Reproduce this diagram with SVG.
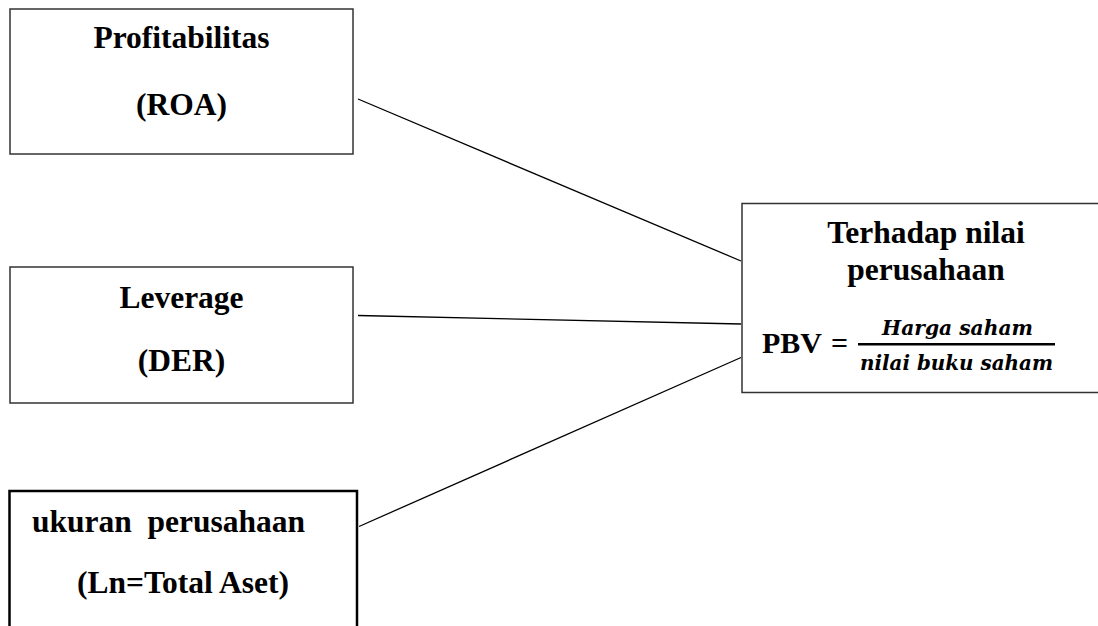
<svg xmlns="http://www.w3.org/2000/svg" width="1098" height="626" viewBox="0 0 1098 626">
<style>
.box{fill:#fff;stroke:#333;stroke-width:1.5}
.box3{fill:#fff;stroke:#000;stroke-width:2.5}
.t{font-family:"Liberation Serif","Times New Roman",serif;font-weight:bold;font-size:31.5px;fill:#000}
.m{font-family:"DejaVu Serif","Liberation Serif",serif;font-weight:bold;font-style:italic;font-size:20px;fill:#000}
.c{stroke:#000;stroke-width:1.3;fill:none}
</style>
<rect width="1098" height="626" fill="#fff"/>
<g id="connectors">
<line class="c" x1="358" y1="99" x2="741" y2="261"/>
<line class="c" x1="358" y1="315.5" x2="741" y2="324"/>
<line class="c" x1="359" y1="526.5" x2="741" y2="357.5"/>
</g>
<g id="node-roa">
<rect class="box" x="10" y="9" width="343" height="145"/>
<text class="t" x="181.5" y="48" text-anchor="middle">Profitabilitas</text>
<text class="t" x="181.5" y="115" text-anchor="middle">(ROA)</text>
</g>
<g id="node-der">
<rect class="box" x="10" y="267" width="343" height="136"/>
<text class="t" x="181.5" y="308" text-anchor="middle">Leverage</text>
<text class="t" x="181.5" y="371" text-anchor="middle">(DER)</text>
</g>
<g id="node-size">
<rect class="box3" x="9.5" y="491" width="347.5" height="150"/>
<text class="t" x="32" y="532" xml:space="preserve">ukuran  perusahaan</text>
<text class="t" x="77" y="593">(Ln=Total Aset)</text>
</g>
<g id="node-pbv">
<rect class="box" x="742" y="203.5" width="370" height="189"/>
<text class="t" x="926" y="243" text-anchor="middle">Terhadap nilai</text>
<text class="t" x="926" y="280" text-anchor="middle">perusahaan</text>
<text class="t" x="762" y="353" style="font-size:30px">PBV</text>
<text class="t" x="831" y="353" style="font-size:30px">=</text>
<text class="m" x="957.5" y="335" text-anchor="middle" textLength="151" lengthAdjust="spacingAndGlyphs">Harga saham</text>
<rect x="858" y="343" width="197" height="2.5" fill="#000"/>
<text class="m" x="956.5" y="370" text-anchor="middle" textLength="193" lengthAdjust="spacingAndGlyphs">nilai buku saham</text>
</g>
</svg>
